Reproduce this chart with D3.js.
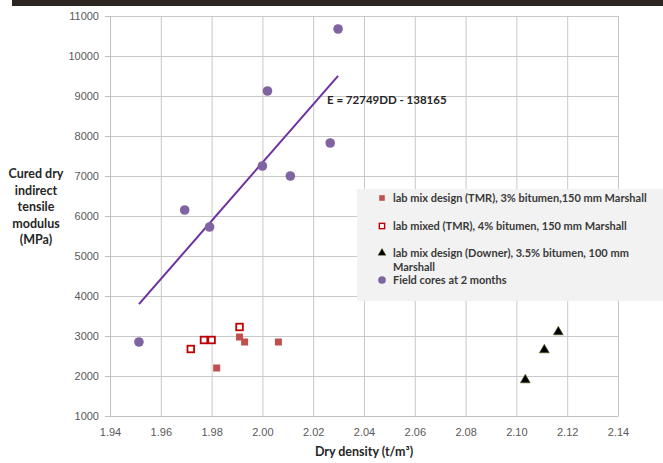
<!DOCTYPE html>
<html>
<head>
<meta charset="utf-8">
<script src="https://cdn.jsdelivr.net/npm/d3@7"></script>
<style>
   html, body { margin: 0; padding: 0; background: #fff; }
   svg { display: block; font-family: Lato, "Open Sans", sans-serif; }
   .tick text { fill: #595959; font-size: 11px; }
   .grid line { stroke: #c8c8c8; }
   .title { font-weight: bold; fill: #262626; font-size: 12.5px; }
   .legend-text { font-weight: bold; fill: #3a3a3a; font-size: 11px; }
</style>
</head>
<body>
<svg id="chart" width="663" height="463"></svg>
<script>
// dry density (t/m3) / modulus (MPa)
const tmr3X = [ 1.982, 1.991, 1.993, 2.0063 ];
const tmr3Y = [ 2200, 2975, 2850, 2850 ];
const tmr4X = [ 1.9718, 1.977, 1.980, 1.991 ];
const tmr4Y = [ 2675, 2900, 2900, 3225 ];
const downerX = [ 2.1035, 2.111, 2.1165 ];
const downerY = [ 1900, 2650, 3100 ];
const coresX = [ 1.9514, 1.9694, 1.9792, 2.000, 2.011, 2.0267, 2.002, 2.0298 ];
const coresY = [ 2850, 6150, 5725, 7250, 7000, 7825, 9125, 10675 ];

// trendline as printed on the chart: E = 72749 D - 138165
const trendSlope = 72749;
const trendIntercept = -138165;
const trendLabel = 'E = 72749DD - 138165';

const xTicks = [ 1.94, 1.96, 1.98, 2.00, 2.02, 2.04, 2.06, 2.08, 2.10, 2.12, 2.14 ];
const yTicks = [ 1000, 2000, 3000, 4000, 5000, 6000, 7000, 8000, 9000, 10000, 11000 ];
const yTitleLines = [ 'Cured dry', 'indirect', 'tensile', 'modulus', '(MPa)' ];
const legendLabels = [
   [ 'lab mix design (TMR), 3% bitumen,150 mm Marshall' ],
   [ 'lab mixed (TMR), 4% bitumen, 150 mm Marshall' ],
   [ 'lab mix design (Downer), 3.5% bitumen, 100 mm', 'Marshall' ],
   [ 'Field cores at 2 months' ]
];

const zip = ( xs, ys ) => xs.map( ( x, i ) => ( { x, y: ys[ i ] } ) );

const svg = d3.select( '#chart' );
const plot = { left: 110, right: 618, top: 16, bottom: 416 };

const x = d3.scaleLinear().domain( [ 1.94, 2.14 ] ).range( [ plot.left, plot.right ] );
const y = d3.scaleLinear().domain( [ 1000, 11000 ] ).range( [ plot.bottom, plot.top ] );

// dark strip along the top edge
svg.append( 'rect' ).attr( 'x', 12 ).attr( 'y', 0 ).attr( 'width', 651 ).attr( 'height', 6 ).attr( 'fill', '#2b2621' );

// grid
svg.append( 'g' ).attr( 'class', 'grid' )
   .attr( 'transform', `translate(0,${plot.bottom})` )
   .call( d3.axisBottom( x ).tickValues( xTicks ).tickSize( -( plot.bottom - plot.top ) ).tickFormat( '' ) )
   .call( g => g.select( '.domain' ).remove() );
svg.append( 'g' ).attr( 'class', 'grid' )
   .attr( 'transform', `translate(${plot.left},0)` )
   .call( d3.axisLeft( y ).tickValues( yTicks ).tickSize( -( plot.right - plot.left ) ).tickFormat( '' ) )
   .call( g => g.select( '.domain' ).remove() );

// axes
svg.append( 'g' )
   .attr( 'transform', `translate(0,${plot.bottom})` )
   .call( d3.axisBottom( x ).tickValues( xTicks ).tickSize( 0 ).tickPadding( 12 ).tickFormat( d3.format( '.2f' ) ) )
   .call( g => g.select( '.domain' ).attr( 'stroke', '#bfbfbf' ) );
svg.append( 'g' )
   .attr( 'transform', `translate(${plot.left},0)` )
   .call( d3.axisLeft( y ).tickValues( yTicks ).tickSize( 5 ).tickPadding( 6 ).tickFormat( d3.format( 'd' ) ) )
   .call( g => g.select( '.domain' ).attr( 'stroke', '#bfbfbf' ) )
   .call( g => g.selectAll( '.tick line' ).attr( 'stroke', '#bfbfbf' ) );

// axis titles
svg.append( 'text' ).attr( 'class', 'title' )
   .attr( 'x', ( plot.left + plot.right ) / 2 ).attr( 'y', 456 )
   .attr( 'text-anchor', 'middle' )
   .text( 'Dry density (t/m³)' );
svg.append( 'text' ).attr( 'class', 'title' )
   .attr( 'text-anchor', 'middle' )
   .selectAll( 'tspan' ).data( yTitleLines ).join( 'tspan' )
   .attr( 'x', 36 ).attr( 'y', ( d, i ) => 178 + i * 16.6 )
   .text( d => d );

// trendline over the field cores
const trendX = d3.extent( coresX );
svg.append( 'line' )
   .attr( 'x1', x( trendX[ 0 ] ) ).attr( 'y1', y( trendSlope * trendX[ 0 ] + trendIntercept ) )
   .attr( 'x2', x( trendX[ 1 ] ) ).attr( 'y2', y( trendSlope * trendX[ 1 ] + trendIntercept ) )
   .attr( 'stroke', '#7030a0' ).attr( 'stroke-width', 2 );
svg.append( 'text' ).attr( 'class', 'title' )
   .attr( 'x', 327 ).attr( 'y', 104 ).style( 'font-size', '11.5px' )
   .text( trendLabel );

// markers
const symbols = {
   filled: g => g.append( 'rect' ).attr( 'x', -3.5 ).attr( 'y', -3.5 ).attr( 'width', 7 ).attr( 'height', 7 )
      .attr( 'fill', '#c0504d' ),
   open: g => g.append( 'rect' ).attr( 'x', -3.3 ).attr( 'y', -3.3 ).attr( 'width', 6.6 ).attr( 'height', 6.6 )
      .attr( 'fill', '#fff' ).attr( 'stroke', '#c00000' ).attr( 'stroke-width', 1.8 ),
   triangle: g => g.append( 'path' ).attr( 'd', d3.symbol( d3.symbolTriangle, 42 )() )
      .attr( 'fill', '#000' ).attr( 'stroke', '#5a5a20' ).attr( 'stroke-width', 0.6 ),
   circle: g => g.append( 'circle' ).attr( 'r', 4.8 ).attr( 'fill', '#8064a2' )
};

function drawSeries( points, symbol ) {
   svg.append( 'g' ).selectAll( 'g' ).data( points ).join( 'g' )
      .attr( 'transform', d => `translate(${x( d.x )},${y( d.y )})` )
      .each( function() { symbol( d3.select( this ) ); } );
}

drawSeries( zip( coresX, coresY ), symbols.circle );
drawSeries( zip( tmr3X, tmr3Y ), symbols.filled );
drawSeries( zip( tmr4X, tmr4Y ), symbols.open );
drawSeries( zip( downerX, downerY ), symbols.triangle );

// legend
const legend = svg.append( 'g' );
legend.append( 'rect' ).attr( 'x', 357 ).attr( 'y', 189 ).attr( 'width', 310 ).attr( 'height', 112 )
   .attr( 'fill', '#f2f2f2' );
const legendRows = [ 198, 226, 253, 280 ];
const legendSymbols = [ symbols.filled, symbols.open, symbols.triangle, symbols.circle ];
legendLabels.forEach( ( lines, i ) => {
   const row = legend.append( 'g' ).attr( 'transform', `translate(382,${legendRows[ i ]})` );
   const marker = row.append( 'g' ).attr( 'transform', 'scale(0.8)' );
   legendSymbols[ i ]( marker );
   row.append( 'text' ).attr( 'class', 'legend-text' )
      .selectAll( 'tspan' ).data( lines ).join( 'tspan' )
      .attr( 'x', 11 ).attr( 'y', ( d, j ) => 4 + j * 13.5 )
      .text( d => d );
} );
</script>
</body>
</html>
